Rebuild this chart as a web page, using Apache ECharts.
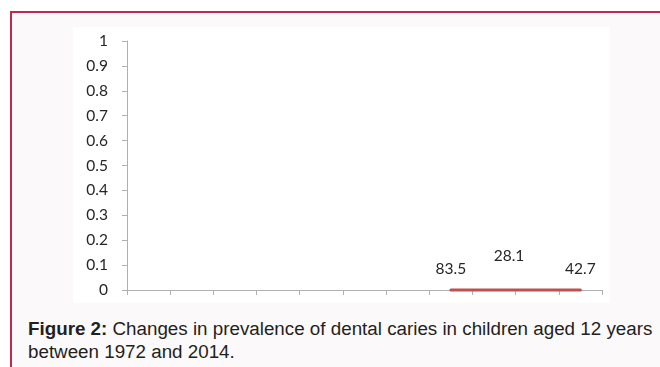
<!DOCTYPE html>
<html>
<head>
<meta charset="utf-8">
<script src="https://cdn.jsdelivr.net/npm/echarts@6/dist/echarts.min.js"></script>
<style>
  html, body { margin: 0; padding: 0; width: 660px; height: 367px; overflow: hidden; background: #ffffff; }
  #frame {
    position: absolute; left: 10px; top: 11px; width: 700px; height: 400px;
    border-top: 2px solid #c42a50; border-left: 2px solid #c42a50;
    background: #fcf9fa;
  }
  #chart { position: absolute; left: 73px; top: 27px; width: 537px; height: 276px; background: #ffffff; }
  #caption {
    position: absolute; left: 28px; top: 317px; white-space: nowrap;
    font-family: "Liberation Sans", Arial, sans-serif; font-size: 18.8px; line-height: 23px; color: #231f20;
  }
</style>
</head>
<body>
<div id="frame"></div>
<div id="chart"></div>
<div id="caption"><b>Figure 2:</b> Changes in prevalence of dental caries in children aged 12 years<br>between 1972 and 2014.</div>
<script>
// Eleven slots along the horizontal axis (unlabelled)
const categories = ['1', '2', '3', '4', '5', '6', '7', '8', '9', '10', '11'];
// Plotted series values per slot (null = no point)
const seriesValues = [null, null, null, null, null, null, null, 0, 0, 0, 0];
// Data label text shown at each slot
const pointLabels = ['', '', '', '', '', '', '', '83.5', '28.1', '', '42.7'];
// Vertical axis range
const yMin = 0, yMax = 1, yStep = 0.1;

const labelFont = 'Lato, "Open Sans", sans-serif';

const data = seriesValues.map((v, i) => {
  const item = { value: v };
  if (pointLabels[i]) {
    item.label = { show: true, formatter: pointLabels[i] };
    if (i === 8) item.label.offset = [15, -13];
  }
  return item;
});

const chart = echarts.init(document.getElementById('chart'), null, { renderer: 'canvas' });
chart.setOption({
  animation: false,
  grid: { left: 54, right: 8, top: 14, bottom: 13, containLabel: false },
  xAxis: {
    type: 'category',
    data: categories,
    boundaryGap: true,
    axisLine: { show: true, lineStyle: { color: '#b0b0b0', width: 1 } },
    axisTick: { show: true, length: 5, alignWithLabel: false, lineStyle: { color: '#b0b0b0' } },
    axisLabel: { show: false },
    splitLine: { show: false }
  },
  yAxis: {
    type: 'value',
    min: yMin, max: yMax, interval: yStep,
    axisLine: { show: true, lineStyle: { color: '#b0b0b0', width: 1 } },
    axisTick: { show: true, length: 5, lineStyle: { color: '#b0b0b0' } },
    axisLabel: { margin: 19, color: '#262626', fontFamily: labelFont, fontSize: 15.5 },
    splitLine: { show: false }
  },
  series: [{
    type: 'line',
    data: data,
    clip: false,
    showSymbol: true,
    symbol: 'circle',
    symbolSize: 1,
    itemStyle: { color: 'rgba(0,0,0,0)' },
    connectNulls: false,
    lineStyle: { color: '#c0504d', width: 3, cap: 'round' },
    label: {
      show: false, position: 'top', distance: 13,
      color: '#262626', fontFamily: labelFont, fontSize: 15.5
    }
  }]
});
</script>
</body>
</html>
